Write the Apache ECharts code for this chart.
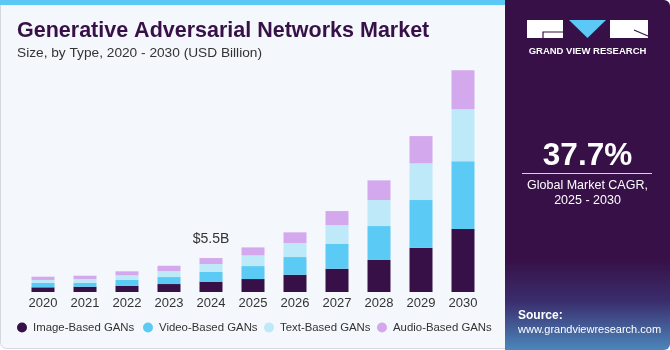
<!DOCTYPE html>
<html>
<head>
<meta charset="utf-8">
<script src="https://cdn.jsdelivr.net/npm/echarts@6/dist/echarts.min.js"></script>
<style>
  html, body { margin: 0; padding: 0; background: #fff; }
  #chart { width: 670px; height: 350px; }
</style>
</head>
<body>
<div id="chart"></div>
<script>
// data (USD billion)
const years = ['2020', '2021', '2022', '2023', '2024', '2025', '2026', '2027', '2028', '2029', '2030'];
const imageBased = [0.76, 0.86, 1.02, 1.29, 1.67, 2.10, 2.80, 3.77, 5.18, 7.17, 10.19];
const videoBased = [0.70, 0.65, 0.92, 1.13, 1.57, 2.10, 2.86, 4.00, 5.50, 7.72, 11.00];
const textBased = [0.49, 0.60, 0.76, 0.97, 1.29, 1.73, 2.27, 3.07, 4.21, 5.94, 8.41];
const audioBased = [0.53, 0.53, 0.65, 0.86, 0.97, 1.29, 1.73, 2.27, 3.19, 4.42, 6.31];
const seriesNames = ['Image-Based GANs', 'Video-Based GANs', 'Text-Based GANs', 'Audio-Based GANs'];
const colors = ['#371047', '#5bcbf5', '#bde9f9', '#d4a8ec'];
const calloutIndex = 4;
const calloutText = '$5.5B';

const font = 'Liberation Sans';
const chart = echarts.init(document.getElementById('chart'));

const seriesData = [imageBased, videoBased, textBased, audioBased];
const series = seriesData.map((arr, i) => ({
  name: seriesNames[i],
  type: 'bar',
  stack: 'total',
  barWidth: 23,
  itemStyle: { color: colors[i] },
  data: arr.map((v, j) => {
    if (i === 3 && j === calloutIndex) {
      return {
        value: v,
        label: {
          show: true, position: 'top', distance: 12,
          formatter: calloutText, color: '#333', fontSize: 14, fontFamily: font
        }
      };
    }
    return v;
  })
}));

// one legend per item so each sits where the picture has it
const legendLeft = [17, 143, 264, 377];
const legends = seriesNames.map((n, i) => ({
  data: [n],
  left: legendLeft[i],
  top: 322,
  padding: 0,
  icon: 'circle',
  itemWidth: 10,
  itemHeight: 10,
  selectedMode: false,
  textStyle: { color: '#333', fontSize: 11.4, fontFamily: font, padding: [0, 0, 0, 1] }
}));

chart.setOption({
  animation: false,
  backgroundColor: '#ffffff',
  title: {
    text: 'Generative Adversarial Networks Market',
    subtext: 'Size, by Type, 2020 - 2030 (USD Billion)',
    left: 12, top: 15,
    itemGap: 4,
    textStyle: { color: '#371047', fontSize: 21.5, fontWeight: 900, fontFamily: font },
    subtextStyle: { color: '#333', fontSize: 13.7, fontFamily: font }
  },
  legend: legends,
  grid: { left: 22, width: 462, bottom: 58, top: 45 },
  xAxis: {
    type: 'category',
    data: years,
    axisLine: { show: false },
    axisTick: { show: false },
    axisLabel: { color: '#333', fontSize: 13, margin: 5, fontFamily: font }
  },
  yAxis: {
    type: 'value',
    min: 0, max: 40,
    show: false,
    splitLine: { show: false }
  },
  graphic: [
    // left panel
    { type: 'rect', z: -10, shape: { x: 0.5, y: 0.5, width: 510, height: 348, r: [0, 0, 0, 6] },
      style: { fill: '#f4f8fc', stroke: '#d3d9df', lineWidth: 1 } },
    { type: 'rect', z: -9, shape: { x: 0, y: 0, width: 506, height: 5 }, style: { fill: '#5bc8f5' } },
    // right panel
    { type: 'rect', z: -8, shape: { x: 505, y: 0, width: 165, height: 350, r: [0, 6, 6, 0] },
      style: { fill: {
        type: 'linear', x: 0, y: 0, x2: 0, y2: 1,
        colorStops: [
          { offset: 0, color: '#371047' },
          { offset: 0.74, color: '#371047' },
          { offset: 0.86, color: '#3a2d6c' },
          { offset: 1, color: '#4c86bc' }
        ]
      } } },
    // logo
    { type: 'rect', shape: { x: 527, y: 20, width: 36, height: 18 }, style: { fill: '#fff' } },
    { type: 'polyline', shape: { points: [[563, 32], [543, 32], [543, 38]] }, style: { stroke: '#371047', lineWidth: 1.2, fill: null } },
    { type: 'polygon', shape: { points: [[569, 20], [606, 20], [587.5, 38]] }, style: { fill: '#5bc8f5' } },
    { type: 'rect', shape: { x: 610, y: 20, width: 38, height: 18 }, style: { fill: '#fff' } },
    { type: 'line', shape: { x1: 634, y1: 30, x2: 648, y2: 36 }, style: { stroke: '#371047', lineWidth: 1.2 } },
    { type: 'text', style: { x: 587.5, y: 51, text: 'GRAND VIEW RESEARCH', fill: '#fff', fontSize: 9.5, fontWeight: 'bold',
      fontFamily: font, align: 'center', verticalAlign: 'middle' } },
    // CAGR
    { type: 'text', style: { x: 587.5, y: 156, text: '37.7%', fill: '#fff', fontSize: 31.5, fontWeight: 'bold',
      fontFamily: font, align: 'center', verticalAlign: 'middle' } },
    { type: 'line', shape: { x1: 522, y1: 173.5, x2: 652, y2: 173.5 }, style: { stroke: '#d8d0e0', lineWidth: 1 } },
    { type: 'text', style: { x: 587.5, y: 186, text: 'Global Market CAGR,', fill: '#fff', fontSize: 12.5,
      fontFamily: font, align: 'center', verticalAlign: 'middle' } },
    { type: 'text', style: { x: 587.5, y: 201, text: '2025 - 2030', fill: '#fff', fontSize: 12.5,
      fontFamily: font, align: 'center', verticalAlign: 'middle' } },
    // source
    { type: 'text', style: { x: 518, y: 316, text: 'Source:', fill: '#fff', fontSize: 12, fontWeight: 'bold',
      fontFamily: font, verticalAlign: 'middle' } },
    { type: 'text', style: { x: 518, y: 330, text: 'www.grandviewresearch.com', fill: '#fff', fontSize: 11,
      fontFamily: font, verticalAlign: 'middle' } }
  ],
  series: series
});
</script>
</body>
</html>
